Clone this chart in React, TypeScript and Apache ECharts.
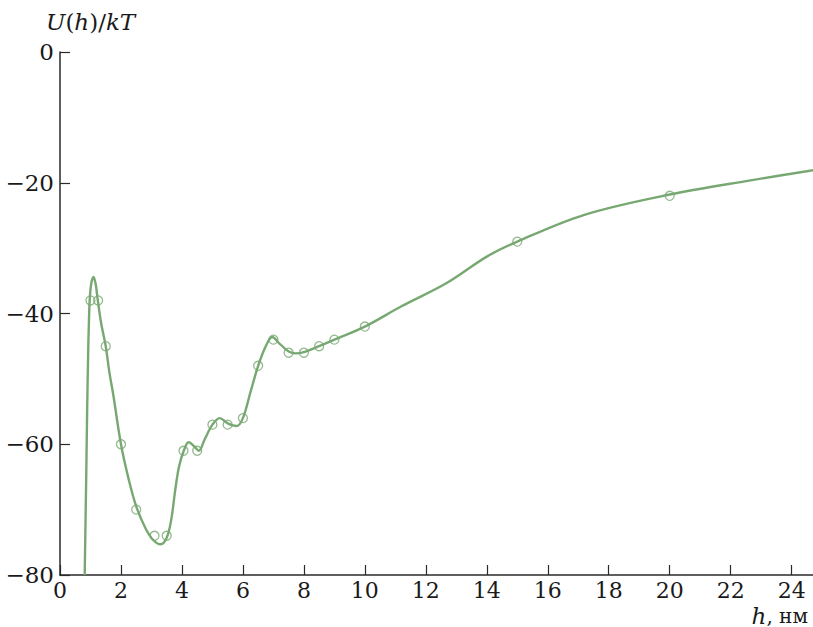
import React, { useEffect, useRef } from "react";
import * as echarts from "echarts";

// Measured points (circles)
const markerH = [1.0, 1.25, 1.5, 2.0, 2.5, 3.1, 3.5, 4.05, 4.5, 5.0, 5.5, 6.0, 6.5, 7.0, 7.5, 8.0, 8.5, 9.0, 10, 15, 20];
const markerU = [-38, -38, -45, -60, -70, -74, -74, -61, -61, -57, -57, -56, -48, -44, -46, -46, -45, -44, -42, -29, -22];

// Fitted curve
const curveH = [0.81, 0.84, 0.865, 0.89, 0.92, 0.95, 0.98, 1.03, 1.1, 1.17, 1.24, 1.35, 1.5, 1.62, 1.75, 2.0, 2.25, 2.5, 2.8, 3.05, 3.3, 3.5, 3.65, 3.78, 3.9, 4.06, 4.22, 4.4, 4.55, 4.75, 5.0, 5.24, 5.5, 5.8, 6.0, 6.25, 6.5, 6.75, 6.96, 7.2, 7.5, 7.73, 8.0, 8.5, 9.0, 10, 11.2, 12.7, 14, 15, 17.2, 20, 22.7, 24.8];
const curveU = [-80, -71, -63.4, -55, -47, -41, -37.5, -35.3, -34.4, -35.5, -38, -41.5, -45, -49, -52.5, -60, -65.3, -69.5, -72.8, -74.6, -75.3, -74.3, -71.5, -67, -63.5, -61, -59.7, -60.3, -61, -59.2, -57, -56, -56.8, -57.2, -56, -52, -48, -45, -43.6, -44.6, -45.8, -46.1, -45.9, -45, -44, -42, -38.9, -35.3, -31.3, -29, -24.9, -21.8, -19.6, -18];

const xTicks = [0, 2, 4, 6, 8, 10, 12, 14, 16, 18, 20, 22, 24];

const GREEN = "#78A872";
const FONT = "DejaVu Serif, Liberation Serif, Noto Serif, serif";

export default function App() {
  const ref = useRef<HTMLDivElement>(null);
  useEffect(() => {
    if (!ref.current) return;
    const chart = echarts.init(ref.current, null, { renderer: "svg" });
    const curve = curveH.map((h, i) => [h, curveU[i]]);
    const marks = markerH.map((h, i) => [h, markerU[i]]);
    chart.setOption({
      animation: false,
      backgroundColor: "#ffffff",
      textStyle: { fontFamily: FONT },
      grid: { left: 60, right: 0, top: 52, bottom: 52, containLabel: false },
      xAxis: {
        type: "value",
        min: 0,
        max: 24.7,
        interval: 2,
        splitLine: { show: false },
        axisLine: { show: true, onZero: false, lineStyle: { color: "#2a2a2a", width: 1.5 } },
        axisTick: { show: true, inside: true, length: 10, customValues: xTicks, lineStyle: { color: "#2a2a2a", width: 1.2 } },
        axisLabel: {
          customValues: xTicks,
          margin: 4,
          color: "#1a1a1a",
          fontFamily: FONT,
          fontSize: 22,
        },
      },
      yAxis: {
        type: "value",
        min: -80,
        max: 0,
        interval: 20,
        splitLine: { show: false },
        axisLine: { show: true, onZero: false, lineStyle: { color: "#2a2a2a", width: 1.5 } },
        axisTick: { show: true, inside: true, length: 10, lineStyle: { color: "#2a2a2a", width: 1.2 } },
        axisLabel: {
          margin: 6,
          color: "#1a1a1a",
          fontFamily: FONT,
          fontSize: 23,
          formatter: (v: number) => (v < 0 ? "\u2212" + Math.abs(v) : String(v)),
        },
      },
      series: [
        {
          type: "line",
          data: curve,
          smooth: 0.35,
          showSymbol: false,
          clip: true,
          lineStyle: { color: GREEN, width: 2.4 },
          z: 2,
        },
        {
          type: "scatter",
          data: marks,
          symbol: "circle",
          symbolSize: 9,
          itemStyle: { color: "rgba(255,255,255,0)", borderColor: GREEN, borderWidth: 1.3 },
          z: 3,
        },
      ],
      graphic: [
        {
          type: "text",
          left: 46,
          top: 10,
          style: {
            text: "{i|U}{n|(}{i|h}{n|)/}{i|kT}",
            rich: {
              i: { fontFamily: FONT, fontStyle: "italic", fontSize: 23, fill: "#1a1a1a" },
              n: { fontFamily: FONT, fontSize: 23, fill: "#1a1a1a" },
            },
          },
        },
        {
          type: "text",
          right: 5,
          top: 604,
          style: {
            text: "{i|h}{n|, нм}",
            rich: {
              i: { fontFamily: FONT, fontStyle: "italic", fontSize: 23, fill: "#1a1a1a" },
              n: { fontFamily: FONT, fontSize: 20, fill: "#1a1a1a" },
            },
          },
        },
      ],
    });
    return () => chart.dispose();
  }, []);
  return (
    <div
      ref={ref}
      style={{ position: "fixed", left: 0, top: 0, width: 813, height: 627, background: "#fff" }}
    />
  );
}
